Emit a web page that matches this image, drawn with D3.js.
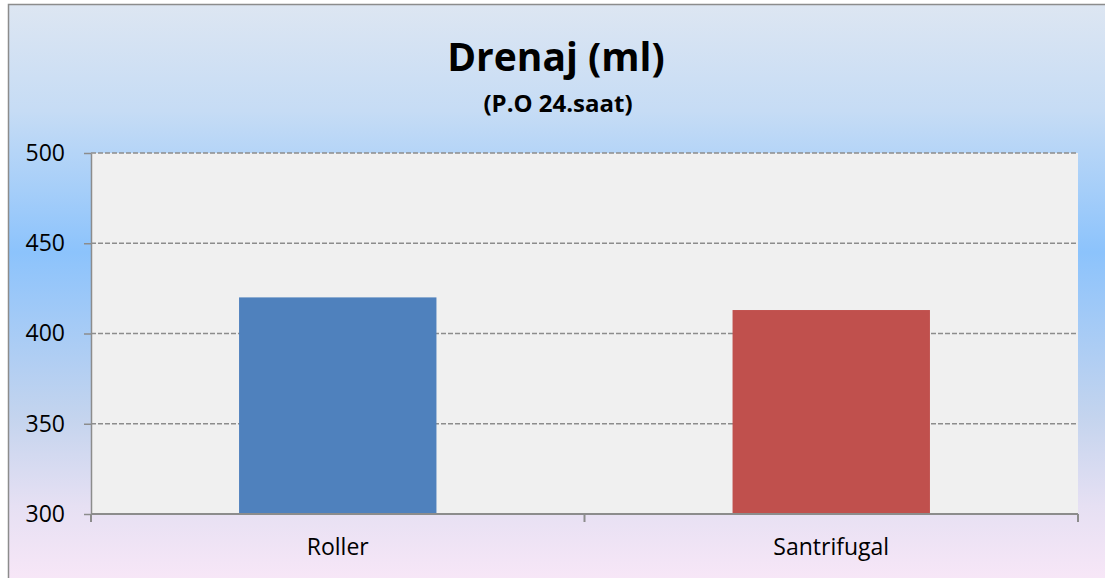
<!DOCTYPE html>
<html>
<head>
<meta charset="utf-8">
<script src="https://cdn.jsdelivr.net/npm/d3@7"></script>
<style>
  body { margin: 0; background: #fff; }
  svg { display: block; font-family: 'Open Sans', 'Noto Sans', sans-serif; }
</style>
</head>
<body>
<div id="wrapper"></div>
<script>
const categories = ['Roller', 'Santrifugal']
const values = [420, 413]
const barColors = ['#4f81bd', '#c0504d']
const yTicks = [300, 350, 400, 450, 500]

function renderChart() {
    const dimensions = {
        width: 1105,
        height: 578,
        margins: { top: 153, right: 27, bottom: 64, left: 91 }
    }
    dimensions.boundedWidth = dimensions.width - dimensions.margins.left - dimensions.margins.right
    dimensions.boundedHeight = dimensions.height - dimensions.margins.top - dimensions.margins.bottom

    const wrapper = d3.select('#wrapper')
        .append('svg')
        .attr('width', dimensions.width)
        .attr('height', dimensions.height)

    // background gradient like the office chart area
    const grad = wrapper.append('defs').append('linearGradient')
        .attr('id', 'bg').attr('x1', 0).attr('y1', 0).attr('x2', 0).attr('y2', 1)
    const stops = [[0, '#dde6f2'], [0.18, '#c6dcf5'], [0.42, '#8cc3fc'], [0.7, '#c4d4ee'], [0.85, '#e6e0f3'], [1, '#fbe8f8']]
    stops.forEach(s => grad.append('stop').attr('offset', s[0]).attr('stop-color', s[1]))

    wrapper.append('rect')
        .attr('x', 8.5).attr('y', 4.5)
        .attr('width', 1110).attr('height', 590)
        .attr('fill', 'url(#bg)')
        .attr('stroke', '#8c8c8c').attr('stroke-width', 1.5)

    wrapper.append('text')
        .attr('x', 556).attr('y', 71)
        .attr('text-anchor', 'middle')
        .style('font-size', '39px').style('font-weight', 'bold')
        .attr('fill', '#000')
        .text('Drenaj (ml)')

    wrapper.append('text')
        .attr('x', 558).attr('y', 112)
        .attr('text-anchor', 'middle')
        .style('font-size', '24px').style('font-weight', 'bold')
        .attr('fill', '#000')
        .text('(P.O 24.saat)')

    const bounds = wrapper.append('g')
        .attr('transform', `translate(${dimensions.margins.left}, ${dimensions.margins.top})`)

    const yScale = d3.scaleLinear()
        .domain([300, 500])
        .range([dimensions.boundedHeight, 0])

    const xScale = d3.scaleBand()
        .domain(categories)
        .range([0, dimensions.boundedWidth])
        .padding(0)

    bounds.append('rect')
        .attr('width', dimensions.boundedWidth)
        .attr('height', dimensions.boundedHeight)
        .attr('fill', '#f0f0f0')

    // gridlines
    bounds.append('g').selectAll('line')
        .data(yTicks.filter(d => d > 300))
        .join('line')
        .attr('x1', 0).attr('x2', dimensions.boundedWidth)
        .attr('y1', d => yScale(d)).attr('y2', d => yScale(d))
        .attr('stroke', '#8c8c8c').attr('stroke-width', 1.5)
        .attr('stroke-dasharray', '5,2')

    const barWidth = xScale.bandwidth() * 0.4
    bounds.append('g').selectAll('rect')
        .data(values)
        .join('rect')
        .attr('x', (d, i) => xScale(categories[i]) + (xScale.bandwidth() - barWidth) / 2)
        .attr('y', d => yScale(d))
        .attr('width', barWidth)
        .attr('height', d => dimensions.boundedHeight - yScale(d))
        .attr('fill', (d, i) => barColors[i])

    const yAxis = bounds.append('g')
        .call(d3.axisLeft(yScale).tickValues(yTicks).tickSize(7).tickPadding(19).tickSizeOuter(0))
    yAxis.select('.domain').attr('stroke', '#8c8c8c').attr('stroke-width', 1.5)
    yAxis.selectAll('.tick line').attr('stroke', '#8c8c8c').attr('stroke-width', 1.5)
    yAxis.selectAll('.tick text')
        .style('font-size', '23px').style('font-family', "'Open Sans', sans-serif")
        .attr('fill', '#000')

    const xAxis = bounds.append('g')
        .attr('transform', `translate(0, ${dimensions.boundedHeight})`)
        .call(d3.axisBottom(xScale).tickSize(0).tickPadding(25))
    xAxis.select('.domain').remove()
    xAxis.selectAll('.tick text')
        .style('font-size', '23px').style('font-family', "'Open Sans', sans-serif")
        .attr('fill', '#000')

    // axis line with category separator ticks
    const sepTicks = [0, ...categories.map(c => xScale(c) + xScale.bandwidth())]
    xAxis.append('line')
        .attr('x1', 0).attr('x2', dimensions.boundedWidth)
        .attr('stroke', '#8c8c8c').attr('stroke-width', 2)
    xAxis.append('g').selectAll('line')
        .data(sepTicks)
        .join('line')
        .attr('x1', d => d).attr('x2', d => d)
        .attr('y1', 0).attr('y2', 8)
        .attr('stroke', '#8c8c8c').attr('stroke-width', 2)
}

renderChart()
</script>
</body>
</html>
